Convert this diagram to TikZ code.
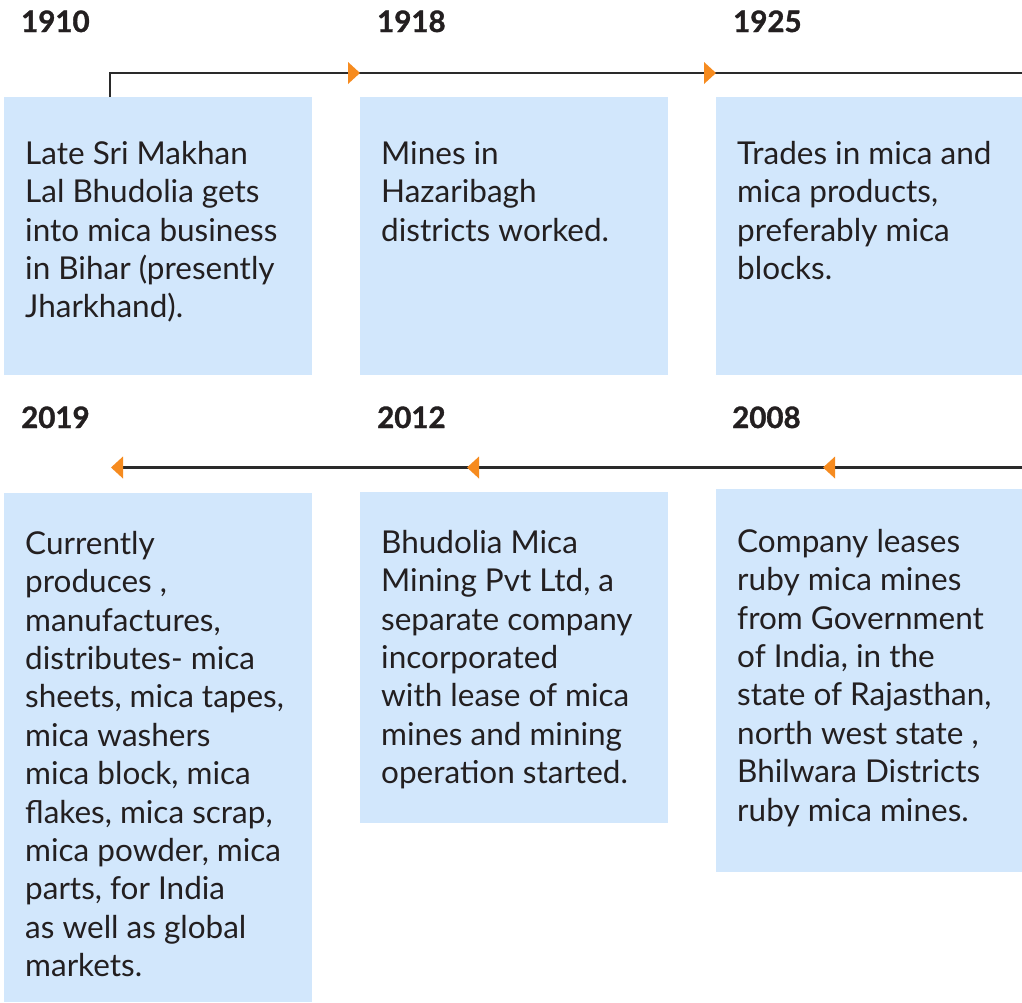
\documentclass[tikz,border=0pt]{standalone}
\usepackage{fontspec}
\setmainfont{Lato}
\definecolor{boxblue}{HTML}{D2E7FC}
\definecolor{txt}{HTML}{231F20}
\definecolor{linec}{HTML}{2A2A2A}
\definecolor{orangec}{HTML}{F68B1F}
\begin{document}
\begin{tikzpicture}[x=1pt,y=-1pt,
  panel/.style={fill=boxblue,draw=none},
  body/.style={anchor=north west,inner sep=0pt,align=left,text=txt,
    font=\fontsize{31.5}{38.4}\selectfont},
  year/.style={anchor=base west,inner sep=0pt,text=txt,
    font=\fontsize{29.5}{34}\selectfont\bfseries\addfontfeature{FakeBold=1.2}},
  tl/.style={draw=linec,line width=2.4pt},
  tip/.style={fill=orangec}]
\useasboundingbox (0,0) rectangle (1022,1002);
\fill[white] (0,0) rectangle (1022,1002);
% panels
\path[panel] (4,97) rectangle (312,375);
\path[panel] (360,97) rectangle (668,375);
\path[panel] (716,97) rectangle (1022,375);
\path[panel] (4,493) rectangle (312,1002);
\path[panel] (360,492) rectangle (668,823);
\path[panel] (716,489) rectangle (1022,872);
% years
\node[year] (y1910) at (21,32) {1910};
\node[year] (y1918) at (377,32) {1918};
\node[year] (y1925) at (733,32) {1925};
\node[year] (y2019) at (21,428) {2019};
\node[year] (y2012) at (377,428) {2012};
\node[year] (y2008) at (732,428) {2008};
% timeline coordinates
\coordinate (s1) at (110,97);
\coordinate (c1) at (110,73);
\coordinate (a1) at (360,73);
\coordinate (a2) at (716,73);
\coordinate (e1) at (1022,73);
\coordinate (e2) at (1022,467.5);
\coordinate (a3) at (823,467.5);
\coordinate (a4) at (467,467.5);
\coordinate (a5) at (111,467.5);
\draw[tl] (s1) -- (c1) -- (a1) -- (a2) -- (e1);
\draw[tl] (e2) -- (a3) -- (a4) -- ([xshift=10pt]a5);
% arrowheads
\fill[tip] (a1) -- ++(-12,-11) -- ++(0,22) -- cycle;
\fill[tip] (a2) -- ++(-12,-11) -- ++(0,22) -- cycle;
\fill[tip] (a3) -- ++(12,-11) -- ++(0,22) -- cycle;
\fill[tip] (a4) -- ++(12,-11) -- ++(0,22) -- cycle;
\fill[tip] (a5) -- ++(12,-11) -- ++(0,22) -- cycle;
% texts
\node[body] (t1910) at (25,140) {\rule{0pt}{24pt}Late Sri Makhan\\Lal Bhudolia gets\\into mica business\\in Bihar (presently\\Jharkhand).};
\node[body] (t1918) at (381,140) {\rule{0pt}{24pt}Mines in\\Hazaribagh\\districts worked.};
\node[body] (t1925) at (737,140) {\rule{0pt}{24pt}Trades in mica and\\mica products,\\preferably mica\\blocks.};
\node[body] (t2019) at (25,530) {\rule{0pt}{24pt}Currently\\produces ,\\manufactures,\\distributes- mica\\sheets, mica tapes,\\mica washers\\mica block, mica\\flakes, mica scrap,\\mica powder, mica\\parts, for India\\as well as global\\markets.};
\node[body] (t2012) at (381,529) {\rule{0pt}{24pt}Bhudolia Mica\\Mining Pvt Ltd, a\\separate company\\incorporated\\with lease of mica\\mines and mining\\operation started.};
\node[body] (t2008) at (737,528) {\rule{0pt}{24pt}Company leases\\ruby mica mines\\from Government\\of India, in the\\state of Rajasthan,\\north west state ,\\Bhilwara Districts\\ruby mica mines.};
\end{tikzpicture}
\end{document}
